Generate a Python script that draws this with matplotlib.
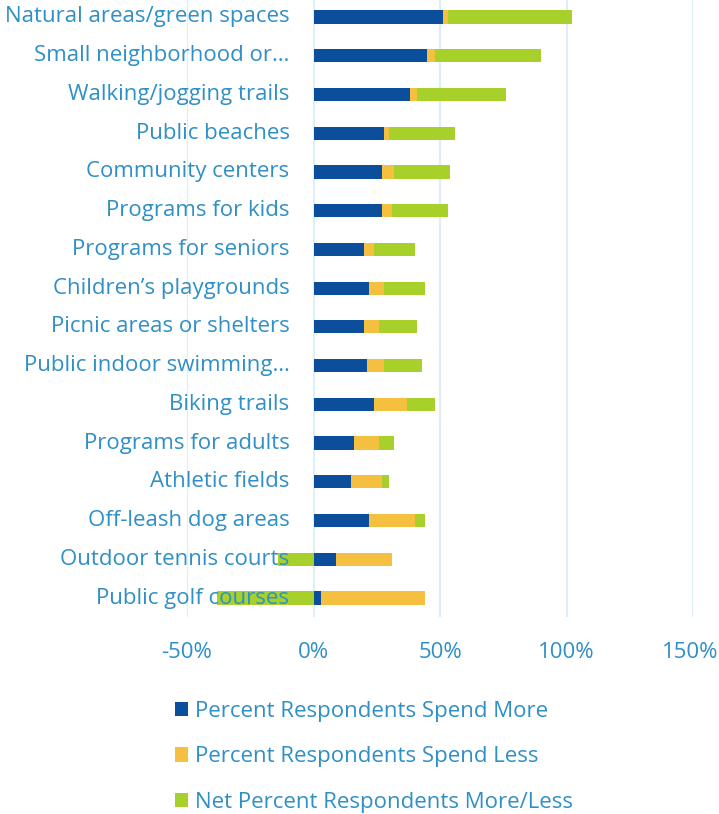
import matplotlib.pyplot as plt
import matplotlib.transforms as mtransforms
from matplotlib.ticker import FuncFormatter

# categories, top to bottom
categories = [
    "Natural areas/green spaces",
    "Small neighborhood or\u2026",
    "Walking/jogging trails",
    "Public beaches",
    "Community centers",
    "Programs for kids",
    "Programs for seniors",
    "Children\u2019s playgrounds",
    "Picnic areas or shelters",
    "Public indoor swimming\u2026",
    "Biking trails",
    "Programs for adults",
    "Athletic fields",
    "Off-leash dog areas",
    "Outdoor tennis courts",
    "Public golf courses",
]
spend_more = [51, 45, 38, 28, 27, 27, 20, 22, 20, 21, 24, 16, 15, 22, 9, 3]
spend_less = [2, 3, 3, 2, 5, 4, 4, 6, 6, 7, 13, 10, 12, 18, 22, 41]
net = [49, 42, 35, 26, 22, 22, 16, 16, 15, 15, 11, 6, 3, 4, -14, -38]

series_names = ["Percent Respondents Spend More",
                "Percent Respondents Spend Less",
                "Net Percent Respondents More/Less"]
colors = ["#0B4F9C", "#F5BF40", "#A7D12A"]
text_color = "#2F8FC7"
grid_color = "#DDEEF8"

plt.rcParams['font.family'] = ['Open Sans', 'DejaVu Sans']
fs = 16

fig = plt.figure(figsize=(7.19, 8.14), dpi=100)
W, H = 719, 814
ax = fig.add_axes([187 / W, (H - 617.4) / H, 506 / W, 619.8 / H])

y = list(range(len(categories)))
h = 0.34
ax.barh(y, spend_more, height=h, color=colors[0], label=series_names[0], zorder=3)
ax.barh(y, spend_less, left=spend_more, height=h, color=colors[1],
        label=series_names[1], zorder=3)
# net stacks after the positive parts; negative nets go left from zero
net_left = [m + l if n >= 0 else 0 for m, l, n in zip(spend_more, spend_less, net)]
ax.barh(y, net, left=net_left, height=h, color=colors[2], label=series_names[2], zorder=3)

ax.set_xlim(-50, 150)
ax.set_ylim(len(categories) - 0.5, -0.5)
ax.set_xticks([-50, 0, 50, 100, 150])
ax.xaxis.set_major_formatter(FuncFormatter(lambda v, p: f"{v:.0f}%"))
ax.grid(axis='x', color=grid_color, linewidth=1.5, zorder=0)

for s in ax.spines.values():
    s.set_visible(False)

ax.tick_params(axis='x', length=0, pad=18, labelsize=fs, labelcolor=text_color)
ax.set_yticks([])

# last tick label sits right at the figure edge, nudge it in a little
last = ax.xaxis.get_major_ticks()[-1].label1
last.set_transform(last.get_transform() +
                   mtransforms.ScaledTranslation(-3 / 100, 0, fig.dpi_scale_trans))

# category labels sit next to the zero line, drawn over the bars
for i, c in enumerate(categories):
    ax.annotate(c, xy=(0, i), xycoords='data', xytext=(-24, 0),
                textcoords='offset pixels', ha='right', va='center',
                fontsize=fs, color=text_color, zorder=5, annotation_clip=False)

leg = fig.legend(loc='upper left', bbox_to_anchor=(166 / W, 1 - 692 / H),
                 frameon=False, fontsize=fs, handlelength=0.6, handleheight=0.6,
                 handletextpad=0.3, labelspacing=1.1, borderaxespad=0)
for t in leg.get_texts():
    t.set_color(text_color)

fig.savefig("out.png", dpi=100)
